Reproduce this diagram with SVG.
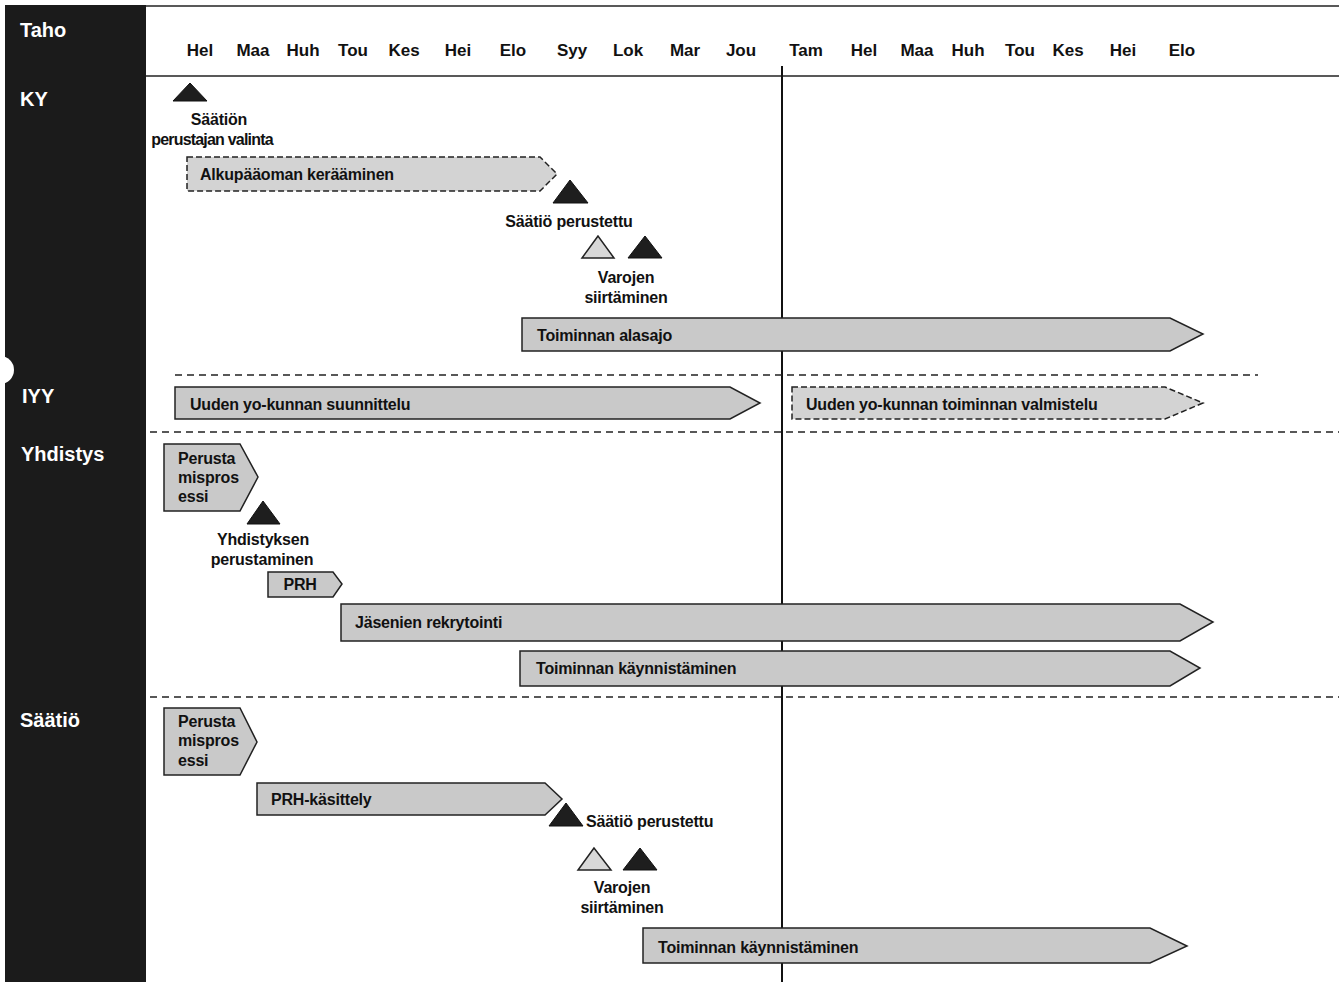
<svg xmlns="http://www.w3.org/2000/svg" width="1339" height="982" viewBox="0 0 1339 982">
<style>
.side{font-family:"Liberation Sans",Arial,sans-serif;font-size:20px;font-weight:bold;fill:#fff}
.mon{font-family:"Liberation Sans",Arial,sans-serif;font-size:17px;font-weight:bold;fill:#111;text-anchor:middle}
.lbl{font-family:"Liberation Sans",Arial,sans-serif;font-size:16px;font-weight:bold;fill:#111;letter-spacing:-0.2px}
.tight{letter-spacing:-0.8px}
.ctr{text-anchor:middle}
.bar{fill:#c9c9c9;stroke:#222;stroke-width:1.5}
.dbar{fill:#d3d3d3;stroke:#222;stroke-width:1.5;stroke-dasharray:6 3}
.tri{fill:#1e1e1e;stroke:#111;stroke-width:1}
.tril{fill:#d8d8d8;stroke:#222;stroke-width:1.5}
.sep{stroke:#222;stroke-width:1.5;stroke-dasharray:7 5;fill:none}
.rule{stroke:#222;stroke-width:1.5;fill:none}
</style>
<rect width="1339" height="982" fill="#fff"/>
<g id="sidebar">
<rect x="5" y="5" width="141" height="977" fill="#1b1b1b"/>
<circle cx="0" cy="370" r="14" fill="#fff"/>
<text class="side" x="20" y="37">Taho</text>
<text class="side" x="20" y="106">KY</text>
<text class="side" x="22" y="403">IYY</text>
<text class="side" x="21" y="461">Yhdistys</text>
<text class="side" x="20" y="727">Säätiö</text>
</g>
<g id="header">
<line class="rule" x1="146" y1="6" x2="1339" y2="6"/>
<line class="rule" x1="146" y1="76" x2="1339" y2="76"/>
<text class="mon" x="200" y="56">Hel</text>
<text class="mon" x="253" y="56">Maa</text>
<text class="mon" x="303" y="56">Huh</text>
<text class="mon" x="353" y="56">Tou</text>
<text class="mon" x="404" y="56">Kes</text>
<text class="mon" x="458" y="56">Hei</text>
<text class="mon" x="513" y="56">Elo</text>
<text class="mon" x="572" y="56">Syy</text>
<text class="mon" x="628" y="56">Lok</text>
<text class="mon" x="685" y="56">Mar</text>
<text class="mon" x="741" y="56">Jou</text>
<text class="mon" x="806" y="56">Tam</text>
<text class="mon" x="864" y="56">Hel</text>
<text class="mon" x="917" y="56">Maa</text>
<text class="mon" x="968" y="56">Huh</text>
<text class="mon" x="1020" y="56">Tou</text>
<text class="mon" x="1068" y="56">Kes</text>
<text class="mon" x="1123" y="56">Hei</text>
<text class="mon" x="1182" y="56">Elo</text>
</g>
<g id="connectors">
<line x1="782" y1="66" x2="782" y2="982" stroke="#111" stroke-width="2"/>
<line class="sep" x1="175" y1="375" x2="1258" y2="375"/>
<line class="sep" x1="150" y1="432" x2="1339" y2="432"/>
<line class="sep" x1="150" y1="697" x2="1339" y2="697"/>
</g>
<g id="ky-perustaja">
<polygon class="tri" points="190,83 173,101 207,101"/>
<text class="lbl ctr" x="219" y="125">Säätiön</text>
<text class="lbl ctr tight" x="212" y="145">perustajan valinta</text>
</g>
<g id="ky-alkupaaoma">
<polygon class="dbar" points="187,157 540,157 557,174 540,191 187,191"/>
<text class="lbl" x="200" y="180">Alkupääoman kerääminen</text>
</g>
<g id="ky-saatio-perustettu">
<polygon class="tri" points="570,180 553,203 588,203"/>
<text class="lbl ctr" x="569" y="227">Säätiö perustettu</text>
</g>
<g id="ky-varojen">
<polygon class="tril" points="598,236 582,258 614,258"/>
<polygon class="tri" points="645,236 628,258 662,258"/>
<text class="lbl ctr" x="626" y="283">Varojen</text>
<text class="lbl ctr" x="626" y="303">siirtäminen</text>
</g>
<g id="ky-alasajo">
<polygon class="bar" points="522,318 1170,318 1203,334 1170,351 522,351"/>
<text class="lbl" x="537" y="341">Toiminnan alasajo</text>
</g>
<g id="iyy-suunnittelu">
<polygon class="bar" points="175,387 730,387 760,403 730,419 175,419"/>
<text class="lbl" x="190" y="410">Uuden yo-kunnan suunnittelu</text>
</g>
<g id="iyy-valmistelu">
<polygon class="dbar" points="792,387 1165,387 1203,403 1165,419 792,419"/>
<text class="lbl" x="806" y="410">Uuden yo-kunnan toiminnan valmistelu</text>
</g>
<g id="yh-perustamisprosessi">
<polygon class="bar" points="164,444 240,444 258,477 240,511 164,511"/>
<text class="lbl" x="178" y="464">Perusta</text>
<text class="lbl" x="178" y="483">mispros</text>
<text class="lbl" x="178" y="502">essi</text>
</g>
<g id="yh-perustaminen">
<polygon class="tri" points="263,501 247,524 280,524"/>
<text class="lbl ctr" x="263" y="545">Yhdistyksen</text>
<text class="lbl ctr" x="262" y="565">perustaminen</text>
</g>
<g id="yh-prh">
<polygon class="bar" points="268,572 333,572 342,584 333,597 268,597"/>
<text class="lbl ctr" x="300" y="590">PRH</text>
</g>
<g id="yh-rekrytointi">
<polygon class="bar" points="341,604 1180,604 1213,622 1180,641 341,641"/>
<text class="lbl" x="355" y="628">Jäsenien rekrytointi</text>
</g>
<g id="yh-kaynnistaminen">
<polygon class="bar" points="520,651 1170,651 1200,668 1170,686 520,686"/>
<text class="lbl" x="536" y="674">Toiminnan käynnistäminen</text>
</g>
<g id="sa-perustamisprosessi">
<polygon class="bar" points="164,708 240,708 257,742 240,775 164,775"/>
<text class="lbl" x="178" y="727">Perusta</text>
<text class="lbl" x="178" y="746">mispros</text>
<text class="lbl" x="178" y="766">essi</text>
</g>
<g id="sa-prh">
<polygon class="bar" points="257,783 545,783 562,799 545,815 257,815"/>
<text class="lbl" x="271" y="805">PRH-käsittely</text>
</g>
<g id="sa-perustettu">
<polygon class="tri" points="566,803 549,826 583,826"/>
<text class="lbl" x="586" y="827">Säätiö perustettu</text>
</g>
<g id="sa-varojen">
<polygon class="tril" points="594,848 578,870 611,870"/>
<polygon class="tri" points="640,848 623,870 657,870"/>
<text class="lbl ctr" x="622" y="893">Varojen</text>
<text class="lbl ctr" x="622" y="913">siirtäminen</text>
</g>
<g id="sa-kaynnistaminen">
<polygon class="bar" points="643,928 1150,928 1187,946 1150,963 643,963"/>
<text class="lbl" x="658" y="953">Toiminnan käynnistäminen</text>
</g>
</svg>
